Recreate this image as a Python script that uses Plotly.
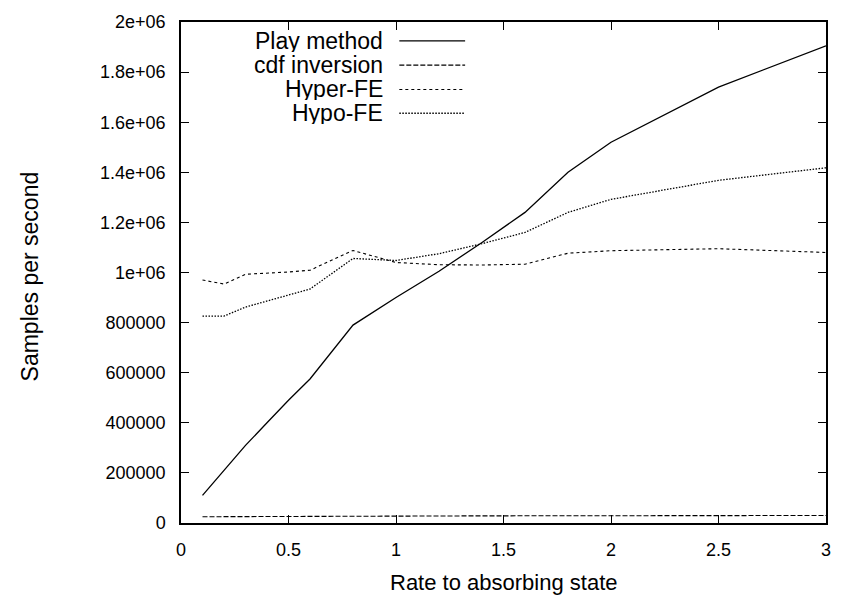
import plotly.graph_objects as go

# ---- data ----
rate = [0.1, 0.2, 0.3, 0.4, 0.5, 0.6, 0.8, 1.0, 1.2, 1.4, 1.6, 1.8, 2.0, 2.5, 3.0]
play_method = [110000, 210000, 310000, 400000, 490000, 575000, 790000, 900000,
               1005000, 1120000, 1240000, 1400000, 1520000, 1740000, 1905000]
cdf_inversion = [25000, 25500, 26000, 26500, 27000, 27500, 28000, 28000,
                 28000, 28500, 28500, 29000, 29000, 29500, 30000]
hyper_fe = [970000, 954000, 993000, 997000, 1002000, 1009000, 1088000, 1040000,
            1031000, 1030000, 1033000, 1077000, 1087000, 1095000, 1080000]
hypo_fe = [826000, 826000, 862000, 885000, 910000, 934000, 1056000, 1048000,
           1075000, 1115000, 1160000, 1240000, 1292000, 1368000, 1418000]

series_names = ["Play method", "cdf inversion", "Hyper-FE", "Hypo-FE"]
x_ticks = [0, 0.5, 1, 1.5, 2, 2.5, 3]
x_tick_labels = ["0", "0.5", "1", "1.5", "2", "2.5", "3"]
y_ticks = [0, 200000, 400000, 600000, 800000, 1000000, 1200000, 1400000,
           1600000, 1800000, 2000000]
y_tick_labels = ["0", "200000", "400000", "600000", "800000", "1e+06",
                 "1.2e+06", "1.4e+06", "1.6e+06", "1.8e+06", "2e+06"]

FONT = "Liberation Sans, Arial, Helvetica, sans-serif"
TICK_SIZE = 18
TITLE_SIZE = 22
LEGEND_SIZE = 23
styles = [
    dict(color="black", width=1.3, dash="solid"),
    dict(color="black", width=1.1, dash="5px,2px"),
    dict(color="black", width=1.1, dash="3px,3px"),
    dict(color="black", width=1.3, dash="1.5px,1.5px"),
]
values = [play_method, cdf_inversion, hyper_fe, hypo_fe]

fig = go.Figure()
for name, vals, st in zip(series_names, values, styles):
    fig.add_trace(go.Scatter(x=rate, y=vals, mode="lines", name=name,
                             line=st, showlegend=False))

# gnuplot-style legend: right-aligned text, line sample to the right
W, H = 843, 604
L, R, T, B = 181, 15, 18, 81
pw, ph = W - L - R, H - T - B
def px_to_paper_x(px):
    return (px - L) / pw
def py_to_paper_y(py):
    return 1 - (py - T) / ph

legend_y = [37, 61.5, 86, 110]
for name, ly, st in zip(series_names, legend_y, styles):
    fig.add_annotation(x=px_to_paper_x(386), y=py_to_paper_y(ly), xref="paper",
                       yref="paper", text=name, showarrow=False, xanchor="right",
                       yanchor="middle", height=22, valign="middle",
                       font=dict(family=FONT, size=LEGEND_SIZE, color="black"))
    fig.add_shape(type="line", xref="paper", yref="paper",
                  x0=px_to_paper_x(400), x1=px_to_paper_x(466),
                  y0=py_to_paper_y(ly), y1=py_to_paper_y(ly), line=st)

axis_common = dict(showgrid=False, zeroline=False, showline=True, linecolor="black",
                   linewidth=1.5, mirror="ticks", ticks="inside", ticklen=8,
                   tickcolor="black", tickwidth=1,
                   tickfont=dict(family=FONT, size=TICK_SIZE, color="black"))

# axis titles placed as annotations for exact positioning
fig.add_annotation(x=0.5, y=py_to_paper_y(583), xref="paper", yref="paper",
                   text="Rate to absorbing state", showarrow=False,
                   xanchor="center", yanchor="middle",
                   font=dict(family=FONT, size=TITLE_SIZE, color="black"))
fig.add_annotation(x=px_to_paper_x(30), y=py_to_paper_y(274), xref="paper", yref="paper",
                   text="Samples per second", showarrow=False, textangle=-90,
                   xanchor="center", yanchor="middle",
                   font=dict(family=FONT, size=23, color="black"))

fig.update_layout(
    width=W, height=H,
    margin=dict(l=L, r=R, t=T, b=B),
    paper_bgcolor="white", plot_bgcolor="white",
    font=dict(family=FONT, size=TICK_SIZE, color="black"),
    xaxis=dict(range=[0, 3], tickvals=x_ticks, ticktext=x_tick_labels,
               ticklabelstandoff=10, **axis_common),
    yaxis=dict(range=[0, 2000000], tickvals=y_ticks, ticktext=y_tick_labels,
               ticklabelstandoff=10, **axis_common),
)

fig.write_html("out.html", config={"displayModeBar": False},
               post_script="document.body.style.margin='0';document.body.style.overflow='hidden';")
